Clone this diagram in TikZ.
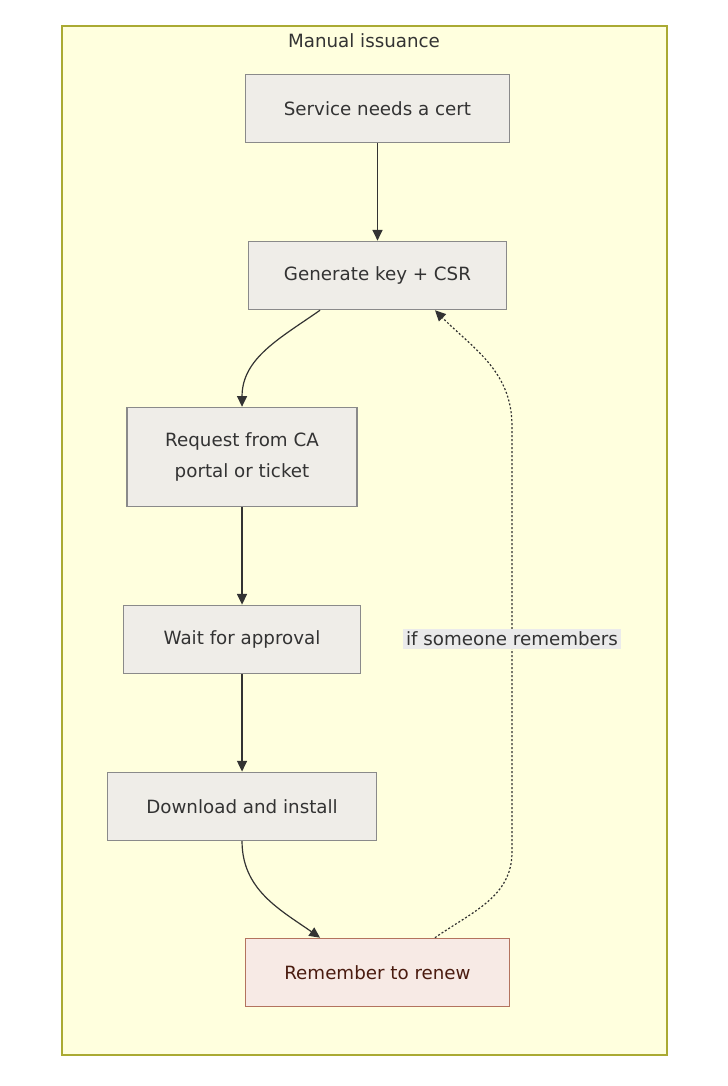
\documentclass[tikz,border=0pt]{standalone}
\usepackage{fontspec}
\setmainfont{DejaVu Sans}
\usetikzlibrary{arrows.meta,positioning}
\definecolor{clusterfill}{HTML}{FFFFDE}
\definecolor{clusterline}{HTML}{AAAA33}
\definecolor{boxfill}{HTML}{EFEDE8}
\definecolor{boxline}{HTML}{8A8A8A}
\definecolor{warnfill}{HTML}{F7EAE5}
\definecolor{warnline}{HTML}{B3735E}
\definecolor{warntext}{HTML}{4A1B0F}
\definecolor{inkgray}{HTML}{333333}
\tikzset{
  stepbox/.style={draw=boxline, fill=boxfill, rectangle, minimum height=51.3pt, text=inkgray,
    font=\fontsize{13.7pt}{23pt}\selectfont, align=center, line width=0.9pt},
  warnbox/.style={stepbox, draw=warnline, fill=warnfill, text=warntext},
  flow/.style={-{Triangle[length=8pt,width=7.5pt]}, draw=inkgray, line width=0.9pt},
  lbl/.style={fill=black!8, text=inkgray, font=\fontsize{13.7pt}{17pt}\selectfont, inner sep=2.5pt},
}
\begin{document}
\begin{tikzpicture}[x=0.75pt,y=-0.75pt]
    \useasboundingbox[fill=white] (0,0) rectangle (728,1086);
    % cluster
    \draw[draw=clusterline, fill=clusterfill, line width=0.9pt] (62,26) rectangle (667,1055);
    \node (title) at (364,41) [text=inkgray, font=\fontsize{13.7pt}{17pt}\selectfont] {Manual issuance};

    \node (svc) [stepbox, minimum width=198pt] at (377.5,108.5) {Service needs a cert};
    \node (gen) [stepbox, below=73pt of svc, minimum width=193.5pt] {Generate key + CSR};
    \node (req) [stepbox, below=72.4pt of gen, xshift=-101.6pt, minimum width=172.5pt, minimum height=74.5pt] {Request from CA\\portal or ticket};
    \node (wait) [stepbox, below=73pt of req, minimum width=177.8pt] {Wait for approval};
    \node (inst) [stepbox, below=73pt of wait, minimum width=201.8pt] {Download and install};
    \node (ren) [warnbox, below=72.4pt of inst, xshift=101.6pt, minimum width=198pt] {Remember to renew};

    \draw[flow] (svc) -- (gen);
    \draw[flow] ([xshift=-43.1pt]gen.south) to[out=-145,in=90] (req.north);
    \draw[flow] (req) -- (wait);
    \draw[flow] (wait) -- (inst);
    \draw[flow] (inst.south) to[out=-90,in=145] ([xshift=-43.1pt]ren.north);

    % renewal loop
    \coordinate (loopb) at (512,852);
    \coordinate (loopt) at (512,426);
    \draw[flow, dash pattern=on 1.5pt off 1.5pt] ([xshift=43.1pt]ren.north) to[out=35,in=-90] (loopb)
        -- node[lbl] {if someone remembers} (loopt) to[out=90,in=-45] ([xshift=43.1pt]gen.south);
\end{tikzpicture}
\end{document}
